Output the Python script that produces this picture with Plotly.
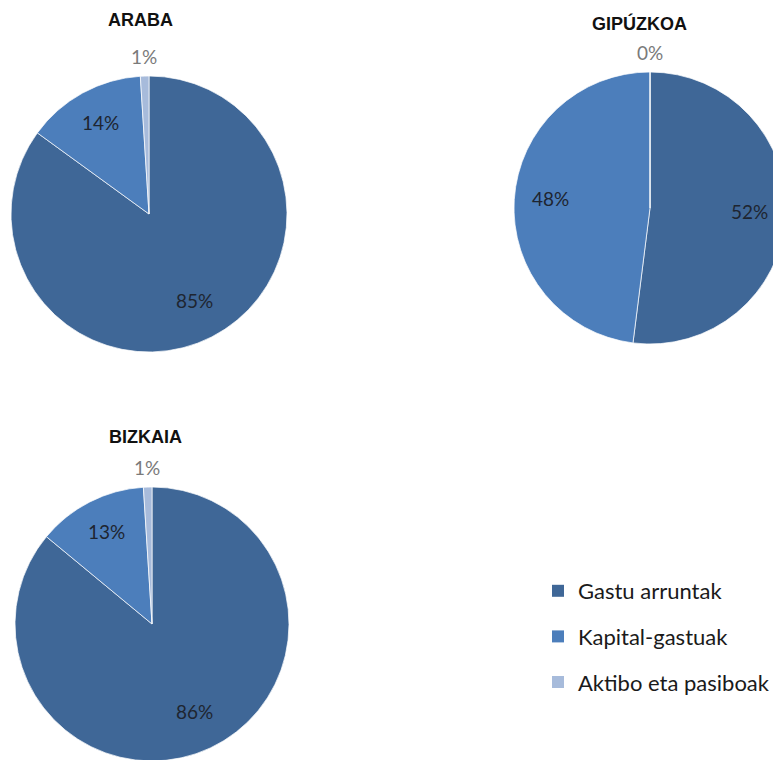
import numpy as np
import plotly.graph_objects as go

# ---- data ----
categories = ["Gastu arruntak", "Kapital-gastuak", "Aktibo eta pasiboak"]
regions = ["ARABA", "GIPÚZKOA", "BIZKAIA"]
araba_values = [85, 14, 1]
gipuzkoa_values = [52, 48, 0]
bizkaia_values = [86, 13, 1]

# ---- style / layout ----
W, H = 781, 760
OFF = 8  # page body margin offset in pixels
colors = ["#3F6797", "#4C7EBB", "#A7BBDB"]
label_font = "Lato, 'Open Sans', sans-serif"


def dom_from(cx, cy, r):
    cx, cy = cx - OFF, cy - OFF
    x0, x1 = max(0, (cx - r) / W), min(1, (cx + r) / W)
    y0, y1 = max(0, 1 - (cy + r) / H), min(1, 1 - (cy - r) / H)
    return dict(x=[x0, x1], y=[y0, y1])


domains = {
    "ARABA": dom_from(149, 214, 138),
    "GIPÚZKOA": dom_from(650, 208, 136),
    "BIZKAIA": dom_from(152, 624, 137),
}
title_pos = {"ARABA": (140, 20), "GIPÚZKOA": (639, 23), "BIZKAIA": (145, 437)}
values_by_region = {"ARABA": araba_values, "GIPÚZKOA": gipuzkoa_values, "BIZKAIA": bizkaia_values}

fig = go.Figure()
annotations = []
for reg in regions:
    vals = values_by_region[reg]
    dom = domains[reg]
    fig.add_trace(go.Pie(
        labels=categories, values=vals, sort=False, direction="clockwise",
        rotation=0, textinfo="none", hoverinfo="label+percent",
        marker=dict(colors=colors, line=dict(color="rgba(255,255,255,0.7)", width=1)),
        domain=dom, showlegend=False, name=reg,
    ))
    # label positions from data
    cx = (dom["x"][0] + dom["x"][1]) / 2
    cy = (dom["y"][0] + dom["y"][1]) / 2
    R = min((dom["x"][1] - dom["x"][0]) * W, (dom["y"][1] - dom["y"][0]) * H) / 2
    total = sum(vals)
    cum = np.cumsum([0] + list(vals))
    for i, v in enumerate(vals):
        frac = v / total
        mid = (cum[i] + cum[i + 1]) / 2 / total * 2 * np.pi
        outside = frac < 0.05
        rr = 1.12 if outside else 0.73
        px = cx + rr * R * np.sin(mid) / W
        py = cy + (rr * R * np.cos(mid) + 3) / H
        annotations.append(dict(
            x=px, y=py, xref="paper", yref="paper", showarrow=False,
            xanchor="center", yanchor="middle",
            text=f"{round(frac * 100)}%",
            font=dict(family=label_font, size=19,
                      color="#7a7a7a" if outside else "#1e2530"),
        ))
    tx, ty = title_pos[reg]
    annotations.append(dict(
        x=(tx - OFF) / W, y=1 - (ty - OFF) / H, xref="paper", yref="paper", showarrow=False,
        xanchor="center", yanchor="middle",
        text=f"<b>{reg}</b>", font=dict(family="Arial, 'Liberation Sans', sans-serif", size=18, color="#111111"),
    ))

# legend entries (dummy markers, one per category)
for cat, col in zip(categories, colors):
    fig.add_trace(go.Scatter(
        x=[None], y=[None], mode="markers", name=cat, legendgroup=cat,
        marker=dict(symbol="square", size=12, color=col),
        showlegend=True, hoverinfo="skip",
    ))

fig.update_layout(
    width=W, height=H,
    margin=dict(l=0, r=0, t=0, b=0),
    paper_bgcolor="white", plot_bgcolor="white",
    annotations=annotations,
    xaxis=dict(visible=False), yaxis=dict(visible=False),
    legend=dict(
        x=(538 - OFF) / W, y=1 - (570 - OFF) / H, xanchor="left", yanchor="top",
        traceorder="grouped", tracegroupgap=14,
        font=dict(family=label_font, size=22, color="#1a1a1a"),
        bgcolor="rgba(0,0,0,0)",
    ),
)

fig.write_html("out.html")
